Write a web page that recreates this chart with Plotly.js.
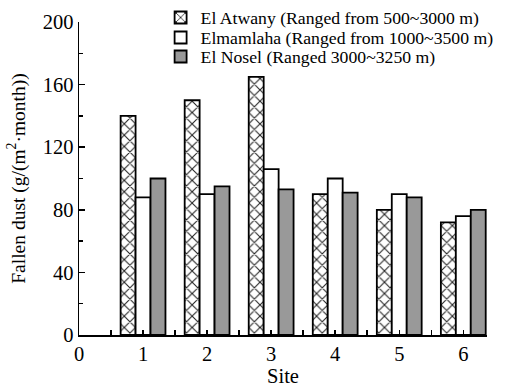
<!DOCTYPE html>
<html><head><meta charset="utf-8">
<script src="https://cdn.plot.ly/plotly-3.0.1.min.js"></script>
<style>body{margin:0;background:#fff}#c{width:515px;height:387px}</style>
</head><body><div id="c"></div>
<script>
var sites = [1, 2, 3, 4, 5, 6];
var seriesNames = ["El Atwany (Ranged from 500~3000 m)", "Elmamlaha (Ranged from 1000~3500 m)", "El Nosel (Ranged 3000~3250 m)"];
var atwany = [140, 150, 165, 90, 80, 72];
var elmamlaha = [88, 90, 106, 100, 90, 76];
var elnosel = [100, 95, 93, 91, 88, 80];
var xTicks = [0, 1, 2, 3, 4, 5, 6];
var yTicks = [0, 40, 80, 120, 160, 200];

var font = "'Liberation Serif', 'Times New Roman', Times, serif";
var traces = [
  {type: "bar", x: sites, y: atwany, name: seriesNames[0], legend: "legend",
   marker: {color: "#ffffff", line: {color: "#000", width: 1.8},
            pattern: {shape: "x", fgcolor: "#222", bgcolor: "#fff", size: 8, solidity: 0.25}}},
  {type: "bar", x: sites, y: elmamlaha, name: seriesNames[1], legend: "legend2",
   marker: {color: "#ffffff", line: {color: "#000", width: 1.8}}},
  {type: "bar", x: sites, y: elnosel, name: seriesNames[2], legend: "legend3",
   marker: {color: "#999999", line: {color: "#000", width: 1.8}}}
];
function leg(y) {
  return {x: 0.2, y: y, xanchor: "left", yanchor: "middle", bgcolor: "rgba(0,0,0,0)",
          font: {family: font, size: 17.7, color: "#000"}, itemwidth: 30, tracegroupgap: 0};
}
var layout = {
  width: 515, height: 387,
  margin: {l: 79, r: 28, t: 22, b: 52, autoexpand: false},
  paper_bgcolor: "#fff", plot_bgcolor: "#fff",
  font: {family: font, size: 20, color: "#000"},
  barmode: "group", bargap: 0.3, bargroupgap: 0,
  showlegend: true,
  legend: leg(1.0128), legend2: leg(0.9489), legend3: leg(0.8882),
  xaxis: {range: [0, 6.37], tickmode: "array", tickvals: xTicks, ticktext: xTicks.map(String),
          ticks: "inside", ticklen: 5, tickwidth: 1.5, tickcolor: "#000",
          minor: {dtick: 0.5, ticks: "inside", ticklen: 5, tickwidth: 1.5, tickcolor: "#000"},
          showline: true, linecolor: "#000", linewidth: 1.5, showgrid: false, zeroline: false,
          tickfont: {family: font, size: 20.5, color: "#000"},
          title: {text: "Site", font: {family: font, size: 20.5, color: "#000"}, standoff: 0}},
  yaxis: {range: [0, 200], tickmode: "array", tickvals: yTicks, ticktext: yTicks.map(String),
          ticks: "inside", ticklen: 6, tickwidth: 1.5, tickcolor: "#000",
          minor: {dtick: 20, ticks: "inside", ticklen: 4, tickwidth: 1.5, tickcolor: "#000"},
          showline: true, linecolor: "#000", linewidth: 1.5, showgrid: false, zeroline: false,
          tickfont: {family: font, size: 20.5, color: "#000"},
          title: {text: "Fallen dust (g/(m<sup>2</sup>·month))", font: {family: font, size: 19.5, color: "#000"}, standoff: 12}}
};
Plotly.newPlot("c", traces, layout, {displayModeBar: false, staticPlot: true});
</script></body></html>
